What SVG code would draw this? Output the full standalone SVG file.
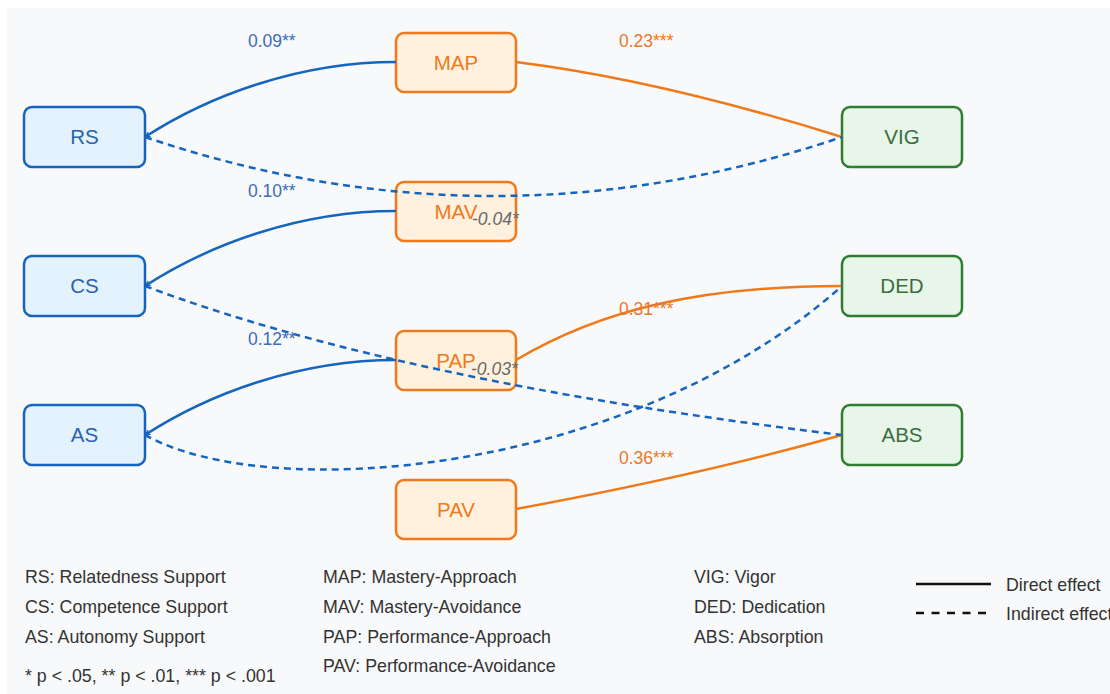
<svg xmlns="http://www.w3.org/2000/svg" width="1110" height="694" viewBox="0 0 1110 694">
  <defs>
    <marker id="arrow-blue" viewBox="0 0 10 10" refX="9" refY="5" markerWidth="6" markerHeight="6" markerUnits="userSpaceOnUse" orient="auto">
      <path d="M0,1 L9,5 L0,9" fill="none" stroke="#1565c0" stroke-width="2"/>
    </marker>
    <style>
      text { font-family: "Liberation Sans", Arial, sans-serif; }
      .node rect { stroke-width: 2.5; }
      .node text { font-size: 20.5px; text-anchor: middle; }
      .src rect { fill: #e3f2fd; stroke: #1565c0; }
      .src text { fill: #2a62ae; }
      .med rect { fill: #fff1de; stroke: #ef7a1c; }
      .med text { fill: #ef7a1c; }
      .out rect { fill: #e8f5e9; stroke: #2e7d32; }
      .out text { fill: #3a6e3e; }
      .edge { fill: none; stroke-width: 2.5; }
      .blue { stroke: #1565c0; }
      .orange { stroke: #ef7a1c; }
      .dash { stroke-dasharray: 7 5; }
      .lbl { font-size: 17.5px; }
      .lbl-blue { fill: #3a6cb8; }
      .lbl-orange { fill: #e8782a; }
      .lbl-ind { fill: #6a6a6a; font-style: italic; }
      .legend text { font-size: 17.8px; fill: #333; }
    </style>
  </defs>

  <!-- canvas -->
  <rect x="0" y="0" width="1110" height="694" fill="#ffffff"/>
  <rect x="7" y="8" width="1103" height="686" fill="#f8f9fa"/>

  <!-- predictors -->
  <g id="node-RS" class="node src">
    <rect x="24" y="107" width="121" height="60" rx="8"/>
    <text x="84.5" y="144">RS</text>
  </g>
  <g id="node-CS" class="node src">
    <rect x="24" y="256" width="121" height="60" rx="8"/>
    <text x="84.5" y="293">CS</text>
  </g>
  <g id="node-AS" class="node src">
    <rect x="24" y="405" width="121" height="60" rx="8"/>
    <text x="84.5" y="442">AS</text>
  </g>

  <!-- achievement goals -->
  <g id="node-MAP" class="node med">
    <rect x="396" y="33" width="120" height="59" rx="8"/>
    <text x="456" y="69.5">MAP</text>
  </g>
  <g id="node-MAV" class="node med">
    <rect x="396" y="182" width="120" height="59" rx="8"/>
    <text x="456" y="218.5">MAV</text>
  </g>
  <g id="node-PAP" class="node med">
    <rect x="396" y="331" width="120" height="59" rx="8"/>
    <text x="456" y="367.5">PAP</text>
  </g>
  <g id="node-PAV" class="node med">
    <rect x="396" y="480" width="120" height="59" rx="8"/>
    <text x="456" y="516.5">PAV</text>
  </g>

  <!-- engagement outcomes -->
  <g id="node-VIG" class="node out">
    <rect x="842" y="107" width="120" height="60" rx="8"/>
    <text x="902" y="144">VIG</text>
  </g>
  <g id="node-DED" class="node out">
    <rect x="842" y="256" width="120" height="60" rx="8"/>
    <text x="902" y="293">DED</text>
  </g>
  <g id="node-ABS" class="node out">
    <rect x="842" y="405" width="120" height="60" rx="8"/>
    <text x="902" y="442">ABS</text>
  </g>

  <!-- paths -->
  <g id="connectors">
    <path class="edge blue" d="M396,62 C300,62 210,95 145,137" marker-end="url(#arrow-blue)"/>
    <path class="edge blue" d="M396,211 C300,211 210,244 145,286" marker-end="url(#arrow-blue)"/>
    <path class="edge blue" d="M396,360 C300,360 210,393 145,435" marker-end="url(#arrow-blue)"/>

    <path class="edge orange" d="M516,62 Q660,80 842,137"/>
    <path class="edge orange" d="M516,360 C600,310 700,286 842,286"/>
    <path class="edge orange" d="M516,509 Q700,475 842,435"/>

    <path class="edge blue dash" d="M145,137 Q493,255 842,137"/>
    <path class="edge blue dash" d="M145,286 Q400,382 842,435"/>
    <path class="edge blue dash" d="M145,435 C270,505 630,475 842,286"/>
  </g>

  <!-- path coefficients -->
  <g id="coefficients">
    <text class="lbl lbl-blue" x="248" y="47">0.09**</text>
    <text class="lbl lbl-blue" x="248" y="197">0.10**</text>
    <text class="lbl lbl-blue" x="248" y="345">0.12**</text>
    <text class="lbl lbl-orange" x="619" y="47">0.23***</text>
    <text class="lbl lbl-orange" x="619" y="315">0.31***</text>
    <text class="lbl lbl-orange" x="619" y="464">0.36***</text>
    <text class="lbl lbl-ind" x="472" y="225">-0.04*</text>
    <text class="lbl lbl-ind" x="471" y="375">-0.03*</text>
  </g>

  <!-- key -->
  <g id="legend" class="legend">
    <text x="25" y="583">RS: Relatedness Support</text>
    <text x="25" y="613">CS: Competence Support</text>
    <text x="25" y="643">AS: Autonomy Support</text>
    <text x="25" y="682">* p &lt; .05, ** p &lt; .01, *** p &lt; .001</text>

    <text x="323" y="583">MAP: Mastery-Approach</text>
    <text x="323" y="613">MAV: Mastery-Avoidance</text>
    <text x="323" y="643">PAP: Performance-Approach</text>
    <text x="323" y="672">PAV: Performance-Avoidance</text>

    <text x="694" y="583">VIG: Vigor</text>
    <text x="694" y="613">DED: Dedication</text>
    <text x="694" y="643">ABS: Absorption</text>

    <line x1="916" y1="584" x2="991" y2="584" stroke="#111" stroke-width="2.5"/>
    <line x1="916" y1="613" x2="986" y2="613" stroke="#111" stroke-width="2.5" stroke-dasharray="8 7.5"/>
    <text x="1006" y="591">Direct effect</text>
    <text x="1006" y="620">Indirect effect</text>
  </g>
</svg>
